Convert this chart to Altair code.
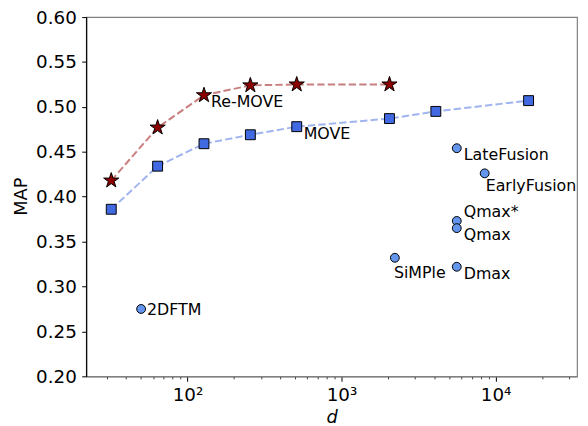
import altair as alt
import pandas as pd
import math

# ---- data ----
remove_d = [32, 64, 128, 256, 512, 2048]
remove_map = [0.418, 0.477, 0.513, 0.524, 0.525, 0.525]

move_d = [32, 64, 128, 256, 512, 2048, 4096, 16384]
move_map = [0.386, 0.434, 0.459, 0.469, 0.478, 0.487, 0.495, 0.507]

other_names = ["2DFTM", "SiMPle", "LateFusion", "EarlyFusion", "Qmax*", "Qmax", "Dmax"]
other_d = [50, 2220, 5600, 8500, 5600, 5600, 5600]
other_map = [0.275, 0.332, 0.454, 0.426, 0.373, 0.365, 0.322]

y_ticks = [0.20, 0.25, 0.30, 0.35, 0.40, 0.45, 0.50, 0.55, 0.60]
x_major = [100, 1000, 10000]
x_major_labels = ["10²", "10³", "10⁴"]
x_minor = [30, 40, 50, 60, 70, 80, 90,
           200, 300, 400, 500, 600, 700, 800, 900,
           2000, 3000, 4000, 5000, 6000, 7000, 8000, 9000,
           20000, 30000]

df_remove = pd.DataFrame({"dim": remove_d, "MAP": remove_map})
df_move = pd.DataFrame({"dim": move_d, "MAP": move_map})
df_other = pd.DataFrame({"dim": other_d, "MAP": other_map, "label": other_names})
df_labels = pd.concat([
    pd.DataFrame({"dim": [remove_d[2]], "MAP": [remove_map[2]], "label": ["Re-MOVE"]}),
    pd.DataFrame({"dim": [move_d[4]], "MAP": [move_map[4]], "label": ["MOVE"]}),
    df_other,
], ignore_index=True)

FONT = "DejaVu Sans"

# five-pointed star symbol path (unit box)
pts = []
for i in range(10):
    a = math.radians(-90 + 36 * i)
    r = 1.0 if i % 2 == 0 else 0.382
    pts.append(f"{r * math.cos(a):.3f},{r * math.sin(a):.3f}")
STAR = "M" + "L".join(pts) + "Z"

label_expr = " : ".join(
    f"datum.value == {v} ? '{l}'" for v, l in zip(x_major, x_major_labels)
) + " : ''"
major_test = " || ".join(f"datum.value == {v}" for v in x_major)

x_scale = alt.Scale(type="log", domain=[22, 33800], nice=False)
y_scale = alt.Scale(domain=[0.2, 0.6], nice=False, zero=False)

x_axis = alt.Axis(
    values=sorted(x_major + x_minor),
    labelExpr=label_expr,
    tickSize={"condition": {"test": major_test, "value": 5}, "value": 2.5},
    tickWidth={"condition": {"test": major_test, "value": 1}, "value": 0.8},
    tickColor="black",
    domainColor="#808080", domainWidth=1.2,
    labelFont=FONT, labelFontSize=18.5, labelColor="black", labelPadding=4,
    labelFlush=False, labelOverlap=False,
    grid=False,
    title="d", titleFont=FONT, titleFontSize=18, titleFontStyle="italic",
    titleFontWeight="normal", titleColor="black",
    titleX=248, titleY=47, titleBaseline="alphabetic", titleAlign="center",
)
y_axis = alt.Axis(
    values=y_ticks, format=".2f",
    tickSize=4.5, tickColor="black", tickWidth=1,
    domainColor="black", domainWidth=1.2,
    labelFont=FONT, labelFontSize=18.5, labelColor="black", labelPadding=5.5,
    labelFlush=False,
    grid=False,
    title="MAP", titleFont=FONT, titleFontSize=18, titleFontWeight="normal",
    titleColor="black", titleAngle=-90, titleX=-60.5, titleY=181,
    titleBaseline="alphabetic", titleAlign="center",
)

X = alt.X("dim:Q", scale=x_scale, axis=x_axis)
Y = alt.Y("MAP:Q", scale=y_scale, axis=y_axis)

line_remove = alt.Chart(df_remove).mark_line(
    color="#a52a2a", opacity=0.6, strokeWidth=2, strokeDash=[7.4, 3.2]
).encode(x=X, y=Y)
line_move = alt.Chart(df_move).mark_line(
    color="#4169e1", opacity=0.5, strokeWidth=2, strokeDash=[7.4, 3.2]
).encode(x=X, y=Y)

stars = alt.Chart(df_remove).mark_point(
    shape=STAR, size=260, filled=True, fill="#8b0000", stroke="black",
    strokeWidth=1, opacity=1
).encode(x=X, y=Y)
squares = alt.Chart(df_move).mark_point(
    shape="square", size=100, filled=True, fill="#4169e1", stroke="black",
    strokeWidth=1, opacity=1
).encode(x=X, y=Y)
circles = alt.Chart(df_other).mark_point(
    shape="circle", size=80, filled=True, fill="#6495ed", stroke="black",
    strokeWidth=1, opacity=1
).encode(x=X, y=Y)


def labels(names, dx, dy):
    return alt.Chart(df_labels[df_labels["label"].isin(names)]).mark_text(
        align="left", baseline="top", dx=dx, dy=dy, font=FONT, fontSize=16,
        color="black"
    ).encode(x=X, y=Y, text="label:N")


txt_right = labels(["Re-MOVE", "MOVE", "LateFusion", "Qmax", "Dmax"], 7, -1)
txt_2dftm = labels(["2DFTM"], 6, -7)
txt_above = labels(["Qmax*"], 7, -17)
txt_simple = labels(["SiMPle"], -1, 7)
txt_early = labels(["EarlyFusion"], 1, 5)

chart = alt.layer(
    line_remove, line_move, stars, squares, circles,
    txt_right, txt_2dftm, txt_above, txt_simple, txt_early
).properties(
    width=496, height=363,
    autosize=alt.AutoSizeParams(type="none"),
    padding={"left": 79, "top": 7, "right": 3, "bottom": 48},
).configure_view(
    stroke="#808080", strokeWidth=1.2
)

chart.save("out.html", embed_options={"renderer": "svg", "actions": False})
